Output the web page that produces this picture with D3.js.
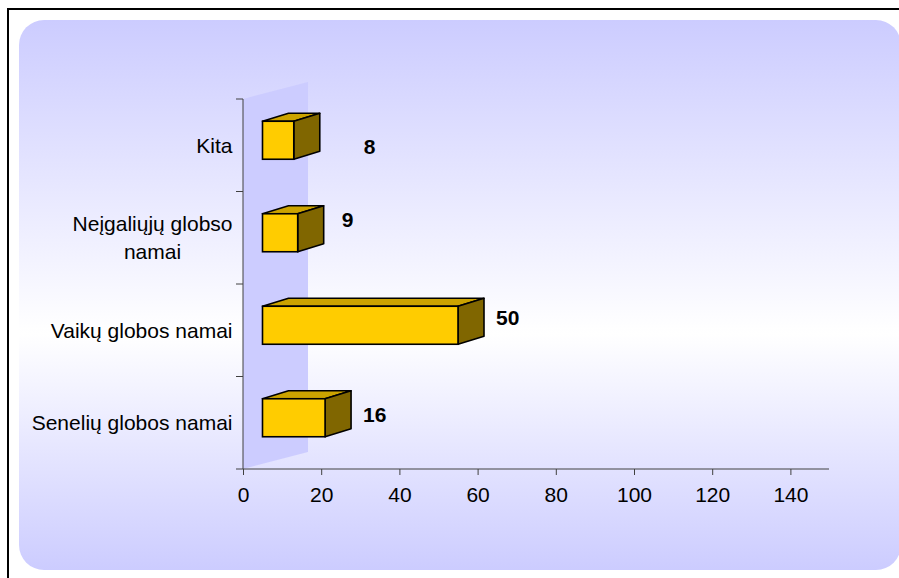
<!DOCTYPE html>
<html>
<head>
<meta charset="utf-8">
<script src="https://cdn.jsdelivr.net/npm/d3@7"></script>
<style>
  html, body { margin: 0; padding: 0; background: #ffffff; }
  svg { display: block; }
  text { font-family: "Liberation Sans", Arial, sans-serif; }
</style>
</head>
<body>
<svg id="chart" width="899" height="578"></svg>
<script>
// ---- data ----
const categories = ["Senelių globos namai", "Vaikų globos namai", "Neįgaliųjų globso namai", "Kita"];
const values = [16, 50, 9, 8];
const xTicks = [0, 20, 40, 60, 80, 100, 120, 140];
const xMax = 150;

// ---- layout ----
const W = 899, H = 578;
const FS = "21px";
const svg = d3.select("#chart");
const defs = svg.append("defs");
const grad = defs.append("linearGradient").attr("id", "bg").attr("x1", 0).attr("y1", 0).attr("x2", 0).attr("y2", 1);
grad.append("stop").attr("offset", "0%").attr("stop-color", "#ccccff");
grad.append("stop").attr("offset", "57%").attr("stop-color", "#ffffff");
grad.append("stop").attr("offset", "100%").attr("stop-color", "#ccccff");

// outer frame (top & left visible)
svg.append("rect").attr("x", 0).attr("y", 0).attr("width", W).attr("height", H).attr("fill", "#fff");
svg.append("line").attr("x1", 7).attr("x2", W).attr("y1", 9).attr("y2", 9).attr("stroke", "#000").attr("stroke-width", 2);
svg.append("line").attr("x1", 8).attr("x2", 8).attr("y1", 8).attr("y2", H).attr("stroke", "#000").attr("stroke-width", 2);

// rounded gradient panel
svg.append("rect").attr("x", 19).attr("y", 20).attr("width", 882).attr("height", 550)
  .attr("rx", 25).attr("ry", 25).attr("fill", "url(#bg)");

const plotTop = 99, plotBottom = 469;
const x = d3.scaleLinear().domain([0, xMax]).range([243.5, 830]);
const y = d3.scaleBand().domain(categories.slice().reverse()).range([plotTop, plotBottom]).padding(0);

const axisX = 243;
// side wall (3D)
const wallDX = 65, wallDY = -17;
svg.append("polygon")
  .attr("points", [[axisX, plotTop], [axisX + wallDX, plotTop + wallDY], [axisX + wallDX, plotBottom + wallDY], [axisX, plotBottom]].map(p => p.join(",")).join(" "))
  .attr("fill", "#ccccff");

// axes
const axisColor = "#404040";
svg.append("line").attr("x1", axisX).attr("x2", axisX).attr("y1", plotTop).attr("y2", plotBottom)
  .attr("stroke", axisColor).attr("stroke-width", 1);
svg.append("line").attr("x1", axisX).attr("x2", 829).attr("y1", plotBottom).attr("y2", plotBottom)
  .attr("stroke", axisColor).attr("stroke-width", 1);

// category separator ticks
const sepYs = [plotTop].concat(y.domain().map(c => y(c) + y.bandwidth()));
svg.selectAll("line.ytick").data(sepYs).join("line")
  .attr("class", "ytick")
  .attr("x1", axisX - 7).attr("x2", axisX).attr("y1", d => d).attr("y2", d => d)
  .attr("stroke", axisColor).attr("stroke-width", 1);

// x axis ticks + labels
svg.selectAll("line.xtick").data(xTicks).join("line")
  .attr("class", "xtick")
  .attr("x1", d => x(d)).attr("x2", d => x(d)).attr("y1", plotBottom).attr("y2", plotBottom + 6)
  .attr("stroke", axisColor).attr("stroke-width", 1);
svg.selectAll("text.xlab").data(xTicks).join("text")
  .attr("class", "xlab")
  .attr("x", d => x(d)).attr("y", 495).attr("dy", "0.35em")
  .attr("text-anchor", "middle").attr("font-size", FS).attr("fill", "#000")
  .text(d => d);

// category labels (wrapped)
const labelRight = 232.5, maxLabelW = 208, lineH = 28;
categories.forEach(c => {
  const cy = y(c) + y.bandwidth() / 2;
  const t = svg.append("text").attr("font-size", FS).attr("fill", "#000").attr("text-anchor", "middle");
  const words = c.split(" ");
  const lines = [];
  let cur = [];
  const probe = svg.append("text").attr("font-size", FS);
  words.forEach(w => {
    const test = cur.concat([w]).join(" ");
    probe.text(test);
    if (probe.node().getComputedTextLength() > maxLabelW && cur.length) {
      lines.push(cur.join(" "));
      cur = [w];
    } else cur.push(w);
  });
  lines.push(cur.join(" "));
  let maxW = 0;
  lines.forEach(l => { probe.text(l); maxW = Math.max(maxW, probe.node().getComputedTextLength()); });
  probe.remove();
  const cx = labelRight - maxW / 2;
  lines.forEach((l, i) => {
    t.append("tspan").attr("x", cx)
      .attr("y", cy + (i - (lines.length - 1) / 2) * lineH)
      .attr("dy", "0.35em").text(l);
  });
});

// 3D bars
const frontOffset = 19, barH = 38, centerShift = -5, depthX = 26, depthY = -8;
const data = categories.map((c, i) => ({ c, v: values[i] }));
const g = svg.append("g");
data.forEach(d => {
  const x0 = x(0) + frontOffset, x1 = x(d.v) + frontOffset;
  const yc = y(d.c) + y.bandwidth() / 2 + centerShift;
  const y0 = yc - barH / 2, y1 = yc + barH / 2;
  const pts = a => a.map(p => p.join(",")).join(" ");
  // top face
  g.append("polygon").attr("points", pts([[x0, y0], [x0 + depthX, y0 + depthY], [x1 + depthX, y0 + depthY], [x1, y0]]))
    .attr("fill", "#cca300").attr("stroke", "#000").attr("stroke-width", 1.6).attr("stroke-linejoin", "round");
  // side face
  g.append("polygon").attr("points", pts([[x1, y0], [x1 + depthX, y0 + depthY], [x1 + depthX, y1 + depthY], [x1, y1]]))
    .attr("fill", "#806600").attr("stroke", "#000").attr("stroke-width", 1.6).attr("stroke-linejoin", "round");
  // front face
  g.append("rect").attr("x", x0).attr("y", y0).attr("width", x1 - x0).attr("height", barH)
    .attr("fill", "#ffcc00").attr("stroke", "#000").attr("stroke-width", 1.6);
});

// value labels (Excel's own placement nudges)
const labelShift = { "Kita": [44, 6], "Neįgaliųjų globso namai": [18, -13.5], "Vaikų globos namai": [12, -7.4], "Senelių globos namai": [12, -3.5] };
svg.selectAll("text.vlab").data(data).join("text")
  .attr("class", "vlab")
  .attr("x", d => x(d.v) + frontOffset + depthX + labelShift[d.c][0])
  .attr("y", d => y(d.c) + y.bandwidth() / 2 + centerShift + labelShift[d.c][1])
  .attr("dy", "0.35em")
  .attr("font-size", FS).attr("font-weight", "bold").attr("fill", "#000")
  .text(d => d.v);
</script>
</body>
</html>
